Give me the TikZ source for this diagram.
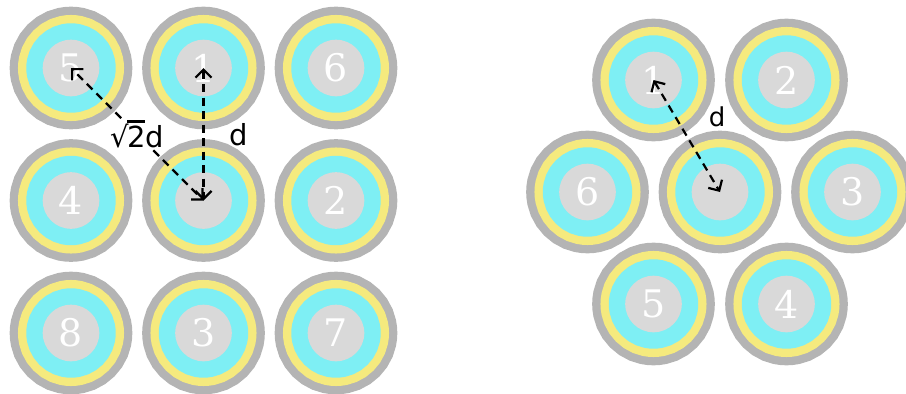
\documentclass[tikz,border=0pt]{standalone}
\usepackage{fontspec}
\newfontfamily\dimfont{DejaVu Sans}
\newfontfamily\strandfont{DejaVu Serif}
\usetikzlibrary{positioning,calc,arrows.meta}

\definecolor{shellgray}{HTML}{B4B4B4}
\definecolor{screenyellow}{HTML}{F5EA7E}
\definecolor{insulcyan}{HTML}{7EEFF4}
\definecolor{coregray}{HTML}{D9D9D9}

% root two with the bar running over the 2
\newcommand\roottwo{√\kern-0.06em\rlap{\rule[0.86em]{0.62em}{0.08em}}2}

\tikzset{
  strand/.style={circle, minimum size=56.6pt, inner sep=0pt, fill=coregray, text=white,
    font=\strandfont\fontsize{38}{38}\selectfont,
    preaction={draw=shellgray, line width=66pt},
    preaction={draw=screenyellow, line width=49.4pt},
    preaction={draw=insulcyan, line width=32.8pt}},
  dim/.style={line width=2.2pt, dash pattern=on 8pt off 5.5pt},
  dimtext/.style={font=\dimfont\fontsize{29}{29}\selectfont, text=black, inner sep=2pt}
}

\begin{document}
\begin{tikzpicture}[>={Straight Barb[length=8pt,width=16pt]}, node distance=132.5pt, auto]
  \useasboundingbox (0,0) rectangle (906pt,-394pt);
  % square lay
  \node[strand] (a5) at (71pt,-68pt) {5};
  \node[strand, right of=a5] (a1) {1};
  \node[strand, right of=a1] (a6) {6};
  \node[strand, below of=a5] (a4) {4};
  \node[strand, right of=a4] (a0) {};
  \node[strand, right of=a0] (a2) {2};
  \node[strand, below of=a4] (a8) {8};
  \node[strand, right of=a8] (a3) {3};
  \node[strand, right of=a3] (a7) {7};
  \node[dimtext] (diag) at ($(a5)!.5!(a0)$) {\roottwo d};
  \draw[dim, ->] (diag) -- (a5.center);
  \draw[dim, ->] (diag) -- (a0.center);
  \draw[dim, <->] (a1.center) -- node[dimtext, right=23pt] {d} (a0.center);
  % hexagonal lay
  \node[strand] (b0) at (720pt,-192pt) {};
  \node[strand, left of=b0] (b6) {6};
  \node[strand, right of=b0] (b3) {3};
  \node[strand, on grid, above left=112pt and 66.5pt of b0] (b1) {1};
  \node[strand, on grid, above right=112pt and 66.5pt of b0] (b2) {2};
  \node[strand, on grid, below left=112pt and 66.5pt of b0] (b5) {5};
  \node[strand, on grid, below right=112pt and 66.5pt of b0] (b4) {4};
  \draw[dim, <->] (b1.center) -- node[dimtext, font=\dimfont\fontsize{26}{26}\selectfont, above right=6pt and 19pt] {d} (b0.center);
\end{tikzpicture}
\end{document}
